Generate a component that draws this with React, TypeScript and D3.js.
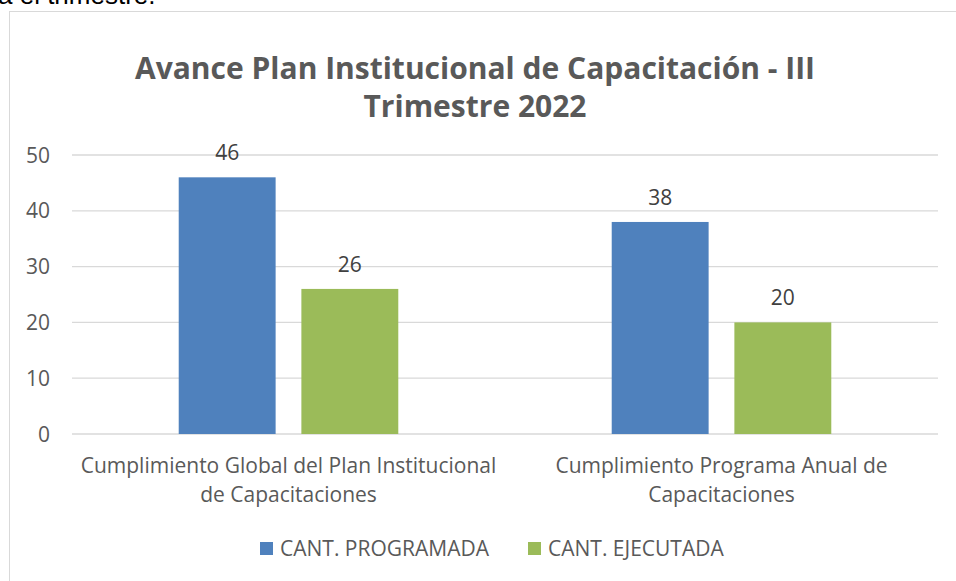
import React from 'react';
import * as d3 from 'd3';

const categories = [
  ['Cumplimiento Global del Plan Institucional', 'de Capacitaciones'],
  ['Cumplimiento Programa Anual de', 'Capacitaciones'],
];
const seriesNames = ['CANT. PROGRAMADA', 'CANT. EJECUTADA'];
const programada = [46, 38];
const ejecutada = [26, 20];
const yTicks = [0, 10, 20, 30, 40, 50];
const colors = ['#4F81BD', '#9BBB59'];

const W = 956;
const H = 581;
const font = '"Open Sans", "Noto Sans", sans-serif';
const textColor = '#595959';

const App = () => {
  const margin = { top: 155, right: 18, bottom: 147, left: 72 };
  const x0 = d3
    .scaleBand<number>()
    .domain(categories.map((_, i) => i))
    .range([margin.left, W - margin.right]);
  const x1 = d3
    .scaleBand<number>()
    .domain([0, 1])
    .range([0, x0.bandwidth()])
    .paddingInner(0.21)
    .paddingOuter(0.87);
  const y = d3.scaleLinear().domain([0, 50]).range([H - margin.bottom, margin.top]);

  const series = [programada, ejecutada];

  return (
    <svg
      width={W}
      height={H}
      style={{ position: 'absolute', left: 0, top: 0, background: '#fff' }}
      fontFamily={font}
    >
      {/* clipped line of document text above the chart */}
      <text x={-2} y={4} fontSize={26} fill="#000" fontFamily='"Liberation Sans", sans-serif'>
        a el trimestre.
      </text>
      <rect x={9.5} y={11.5} width={960} height={600} fill="#fff" stroke="#D9D9D9" />

      <text x={475} y={79} textAnchor="middle" fontSize={30} fontWeight="bold" fill={textColor}>
        Avance Plan Institucional de Capacitación - III
      </text>
      <text x={475} y={117} textAnchor="middle" fontSize={30} fontWeight="bold" fill={textColor}>
        Trimestre 2022
      </text>

      {yTicks.map((t) => (
        <g key={t}>
          <line
            x1={margin.left}
            x2={W - margin.right}
            y1={y(t)}
            y2={y(t)}
            stroke="#D9D9D9"
            strokeWidth={1.3}
          />
          <text x={50} y={y(t) + 7.5} textAnchor="end" fontSize={21} fill={textColor}>
            {t}
          </text>
        </g>
      ))}

      {categories.map((cat, i) => (
        <g key={i} transform={`translate(${x0(i)},0)`}>
          {series.map((s, j) => (
            <g key={j}>
              <rect
                x={x1(j)}
                y={y(s[i])}
                width={x1.bandwidth()}
                height={y(0) - y(s[i])}
                fill={colors[j]}
              />
              <text
                x={(x1(j) as number) + x1.bandwidth() / 2}
                y={y(s[i]) - 17}
                textAnchor="middle"
                fontSize={21}
                fill="#404040"
              >
                {s[i]}
              </text>
            </g>
          ))}
          {cat.map((line, k) => (
            <text
              key={k}
              x={x0.bandwidth() / 2}
              y={473 + k * 29}
              textAnchor="middle"
              fontSize={21}
              fill={textColor}
            >
              {line}
            </text>
          ))}
        </g>
      ))}

      {seriesNames.map((name, j) => {
        const lx = [260, 528][j];
        return (
          <g key={name}>
            <rect x={lx} y={542} width={13} height={13} fill={colors[j]} />
            <text x={lx + 20} y={556} fontSize={21} fill={textColor}>
              {name}
            </text>
          </g>
        );
      })}
    </svg>
  );
};

export default App;
